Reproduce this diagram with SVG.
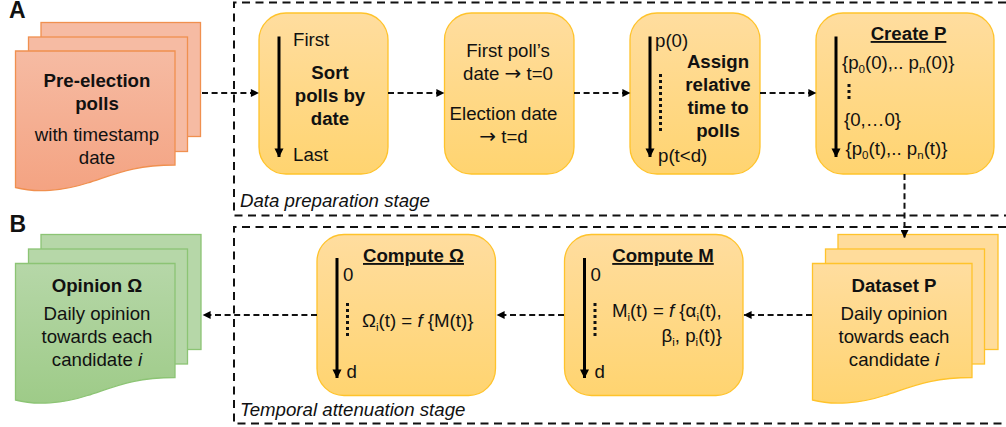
<svg xmlns="http://www.w3.org/2000/svg" width="1006" height="427" viewBox="0 0 1006 427">
<style>
text{font-family:"Liberation Sans",Arial,sans-serif;font-size:18.67px;fill:#111}
.m{text-anchor:middle}
.b{font-weight:bold}
.u{text-decoration:underline}
.i{font-style:italic}
.s{font-size:11.5px}
.w{font-family:"DejaVu Sans",sans-serif;font-size:20px}
.l{font-size:23px}
.box{fill:url(#gy);stroke:#FFC32B;stroke-width:1.3}
.dy{fill:url(#gy);stroke:#FFC32B;stroke-width:1.3}
.by{fill:#FFDC9B;stroke:#FFC32B;stroke-width:1.3}
.do{fill:url(#go);stroke:#F0904F;stroke-width:1.3}
.bo{fill:#F6BBA3;stroke:#F0904F;stroke-width:1.3}
.dg{fill:url(#gg);stroke:#8CC474;stroke-width:1.3}
.bg{fill:#B6D7A8;stroke:#8CC474;stroke-width:1.3}
.frame{fill:none;stroke:#111;stroke-width:2;stroke-dasharray:8 5.500}
.con{fill:none;stroke:#111;stroke-width:2;stroke-dasharray:6 3.600}
.ar{fill:none;stroke:#000;stroke-width:3}
.dots{fill:none;stroke:#111;stroke-width:3;stroke-dasharray:3 3}
</style>
<defs>
<linearGradient id="gy" x1="0" y1="0" x2="0" y2="1"><stop offset="0" stop-color="#FFDD9F"/><stop offset="1" stop-color="#FFD470"/></linearGradient>
<linearGradient id="go" x1="0" y1="0" x2="0" y2="1"><stop offset="0" stop-color="#F6BBA3"/><stop offset="1" stop-color="#F4A382"/></linearGradient>
<linearGradient id="gg" x1="0" y1="0" x2="0" y2="1"><stop offset="0" stop-color="#B6D7A8"/><stop offset="1" stop-color="#9ECB88"/></linearGradient>
<marker id="h" viewBox="0 0 10 10" refX="9.500" refY="5" markerWidth="9" markerHeight="8" markerUnits="userSpaceOnUse" orient="auto"><path d="M0 0L10 5L0 10z" fill="#000"/></marker>
<marker id="hb" viewBox="0 0 10 10" refX="9.500" refY="5" markerWidth="9" markerHeight="12" markerUnits="userSpaceOnUse" orient="auto"><path d="M0 0L10 5L0 10z" fill="#000"/></marker>
<path id="doc" d="M0 0H159.500V114C118 114 100 123 72 132C48 140 20 142 0 136.500Z"/>
</defs>

<g id="frames">
<path class="frame" d="M1006 2.500H234V215.500H1006"/>
<path class="frame" d="M1006 227H234V423.500H1006"/>
</g>

<text id="label-a" x="9" y="18" class="b l">A</text>
<text id="label-b" x="9.500" y="232" class="b l">B</text>
<text id="stage-a" x="240" y="207" class="i">Data preparation stage</text>
<text id="stage-b" x="240" y="416" class="i">Temporal attenuation stage</text>

<g id="pre-election-polls">
<rect class="bo" x="41" y="22.500" width="159.500" height="114"/>
<rect class="bo" x="28.500" y="37" width="159" height="114.500"/>
<use href="#doc" class="do" x="15.500" y="51"/>
<text class="m b" x="97" y="87">Pre-election</text>
<text class="m b" x="97" y="110">polls</text>
<text class="m" x="97" y="141">with timestamp</text>
<text class="m" x="97" y="164">date</text>
</g>

<g id="sort-polls">
<rect class="box" x="259" y="13" width="129" height="161" rx="27"/>
<path class="ar" d="M279 36.500V157" marker-end="url(#hb)"/>
<text x="293" y="46">First</text>
<text x="293" y="161">Last</text>
<text class="m b" x="330" y="79">Sort</text>
<text class="m b" x="330" y="102">polls by</text>
<text class="m b" x="330" y="125">date</text>
</g>

<g id="first-poll-date">
<rect class="box" x="444.500" y="13" width="129.500" height="161" rx="27"/>
<text class="m" x="508" y="57">First poll’s</text>
<text class="m" x="508" y="80">date <tspan class="w">→</tspan> t=0</text>
<text class="m" x="503.500" y="120">Election date</text>
<text class="m" x="503.500" y="143"><tspan class="w">→</tspan> t=d</text>
</g>

<g id="assign-time">
<rect class="box" x="630" y="13" width="130" height="161" rx="27"/>
<path class="ar" d="M650 36.500V157" marker-end="url(#hb)"/>
<path class="dots" d="M660.500 74V134"/>
<text x="655" y="47">p(0)</text>
<text x="658" y="162">p(t&lt;d)</text>
<text class="m b" x="718" y="68">Assign</text>
<text class="m b" x="718" y="91">relative</text>
<text class="m b" x="718" y="114">time to</text>
<text class="m b" x="718" y="137">polls</text>
</g>

<g id="create-p">
<rect class="box" x="816" y="13" width="178" height="161" rx="27"/>
<path class="ar" d="M836 36.500V157" marker-end="url(#hb)"/>
<path class="dots" d="M849 84V100"/>
<text class="m b u" x="908.500" y="40">Create P</text>
<text x="842" y="68.500">{p<tspan class="s" dy="4">0</tspan><tspan dy="-4">(0),.. p</tspan><tspan class="s" dy="4">n</tspan><tspan dy="-4">(0)}</tspan></text>
<text x="844" y="126">{0,…0}</text>
<text x="845.500" y="155">{p<tspan class="s" dy="4">0</tspan><tspan dy="-4">(t),.. p</tspan><tspan class="s" dy="4">n</tspan><tspan dy="-4">(t)}</tspan></text>
</g>

<g id="dataset-p">
<rect class="by" x="838" y="234.500" width="160" height="115"/>
<rect class="by" x="825.500" y="249" width="159" height="115"/>
<use href="#doc" class="dy" x="812.500" y="263.500"/>
<text class="m b" x="894" y="292">Dataset P</text>
<text class="m" x="894" y="320">Daily opinion</text>
<text class="m" x="894" y="343">towards each</text>
<text class="m" x="894" y="366">candidate <tspan class="i">i</tspan></text>
</g>

<g id="compute-m">
<rect class="box" x="564.500" y="234.500" width="178.500" height="161" rx="27"/>
<path class="ar" d="M584.500 258V378" marker-end="url(#hb)"/>
<path class="dots" d="M595 303V338"/>
<text class="m b u" x="663" y="262">Compute M</text>
<text x="590.500" y="281">0</text>
<text x="594.500" y="378">d</text>
<text x="612" y="317">M<tspan class="s" dy="4">i</tspan><tspan dy="-4">(t) = </tspan><tspan class="i">f</tspan> {α<tspan class="s" dy="4">i</tspan><tspan dy="-4">(t),</tspan></text>
<text x="722" y="342" text-anchor="end">β<tspan class="s" dy="4">i</tspan><tspan dy="-4">, p</tspan><tspan class="s" dy="4">i</tspan><tspan dy="-4">(t)}</tspan></text>
</g>

<g id="compute-omega">
<rect class="box" x="317" y="234.500" width="178.500" height="161" rx="27"/>
<path class="ar" d="M337 258V378" marker-end="url(#hb)"/>
<path class="dots" d="M347.500 303V338"/>
<text class="m b u" x="413.500" y="262">Compute Ω</text>
<text x="343" y="281">0</text>
<text x="346.500" y="378">d</text>
<text x="362" y="327">Ω<tspan class="s" dy="4">i</tspan><tspan dy="-4">(t) = </tspan><tspan class="i">f</tspan> {M(t)}</text>
</g>

<g id="opinion-omega">
<rect class="bg" x="41" y="234.500" width="160" height="115"/>
<rect class="bg" x="28.500" y="249" width="159" height="115"/>
<use href="#doc" class="dg" x="15.500" y="263.500"/>
<text class="m b" x="97" y="292">Opinion Ω</text>
<text class="m" x="97" y="320">Daily opinion</text>
<text class="m" x="97" y="343">towards each</text>
<text class="m" x="97" y="366">candidate <tspan class="i">i</tspan></text>
</g>

<g id="connectors">
<path class="con" d="M202 93H258.500" marker-end="url(#h)"/>
<path class="con" d="M388 93H444" marker-end="url(#h)"/>
<path class="con" d="M574 93H630" marker-end="url(#h)"/>
<path class="con" d="M760 93H816" marker-end="url(#h)"/>
<path class="con" d="M904.500 174V237.500" marker-end="url(#h)"/>
<path class="con" d="M812 315H744" marker-end="url(#h)"/>
<path class="con" d="M564 315H497" marker-end="url(#h)"/>
<path class="con" d="M317 315H203" marker-end="url(#h)"/>
</g>
</svg>
